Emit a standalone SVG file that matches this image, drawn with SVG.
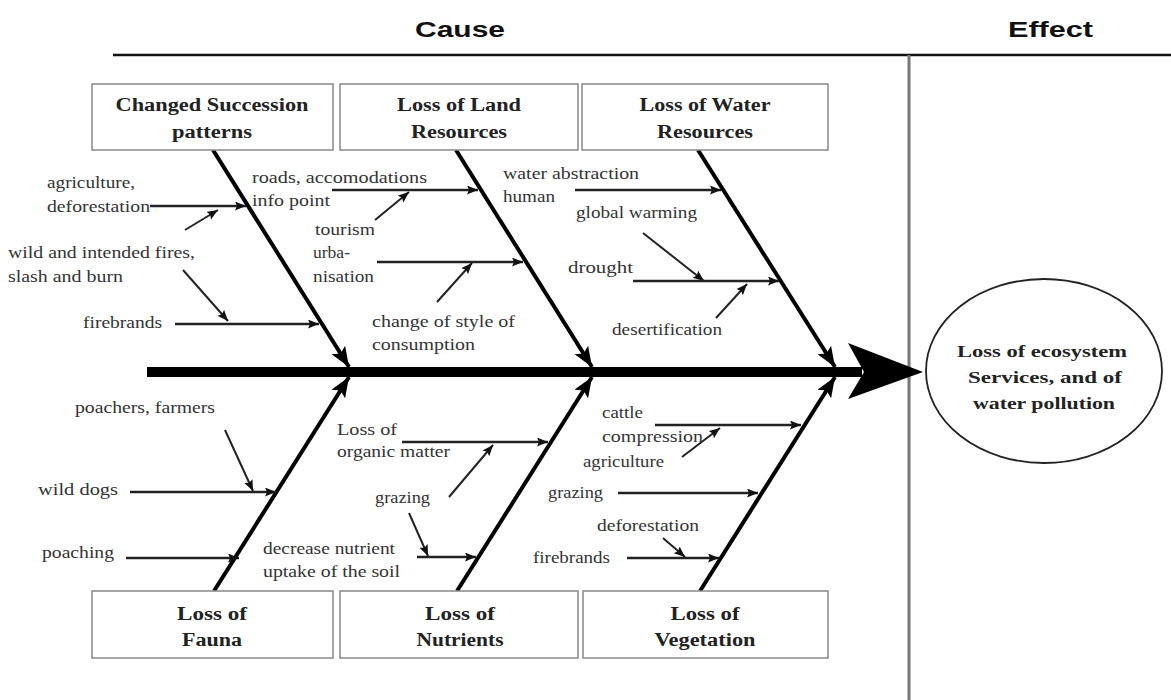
<svg xmlns="http://www.w3.org/2000/svg" width="1171" height="700" viewBox="0 0 1171 700">
<defs>
<style>
.hdr{font-family:"Liberation Sans",Arial,sans-serif;font-weight:bold;font-size:22px;fill:#111}
.box{fill:#fff;stroke:#888;stroke-width:1.5}
.bt{font-family:"Liberation Serif","Times New Roman",serif;font-weight:bold;font-size:18px;fill:#222;text-anchor:middle}
.lb{font-family:"Liberation Serif","Times New Roman",serif;font-size:16px;fill:#333}
.et{font-family:"Liberation Serif","Times New Roman",serif;font-weight:bold;font-size:16px;fill:#222;text-anchor:middle}
.bone{stroke:#000;stroke-width:4;fill:none;marker-end:url(#big)}
.sub{stroke:#222;stroke-width:2.5;fill:none}
.sa{marker-end:url(#sm)}
.tw{stroke:#222;stroke-width:2;fill:none;marker-end:url(#sm)}
</style>
<marker id="big" markerUnits="userSpaceOnUse" markerWidth="22" markerHeight="18" refX="20" refY="8" orient="auto">
<path d="M0,0 L20,8 L0,16 L4,8 Z" fill="#000"/>
</marker>
<marker id="sm" markerUnits="userSpaceOnUse" markerWidth="12" markerHeight="10" refX="11" refY="4.5" orient="auto">
<path d="M0,0 L11,4.5 L0,9 L2,4.5 Z" fill="#111"/>
</marker>
</defs>
<rect width="1171" height="700" fill="#fff"/>

<g id="header">
<line x1="113" y1="55" x2="1171" y2="55" stroke="#111" stroke-width="2.5"/>
<line x1="909" y1="55" x2="909" y2="700" stroke="#777" stroke-width="3"/>
<text class="hdr" x="415" y="37" textLength="90" lengthAdjust="spacingAndGlyphs">Cause</text>
<text class="hdr" x="1008" y="37" textLength="85" lengthAdjust="spacingAndGlyphs">Effect</text>
</g>

<g id="spine">
<rect x="147" y="367" width="715" height="10" fill="#000"/>
<polygon points="848,343 923,372 848,399 864,372" fill="#000"/>
</g>

<g id="connectors">
<line class="bone" x1="213" y1="150" x2="349" y2="367"/>
<line class="bone" x1="456" y1="150" x2="592" y2="367"/>
<line class="bone" x1="698" y1="150" x2="835" y2="367"/>
<line class="bone" x1="214" y1="591" x2="349" y2="377"/>
<line class="bone" x1="457" y1="591" x2="592" y2="377"/>
<line class="bone" x1="700" y1="591" x2="835" y2="377"/>

<line class="sub sa" x1="150" y1="206" x2="246" y2="206"/>
<line class="tw" x1="185" y1="230" x2="218" y2="210"/>
<line class="tw" x1="183" y1="270" x2="228" y2="321"/>
<line class="sub sa" x1="175" y1="324" x2="319" y2="324"/>

<line class="sub sa" x1="332" y1="190" x2="478" y2="190"/>
<line class="tw" x1="375" y1="220" x2="409" y2="192"/>
<line class="sub sa" x1="377" y1="262" x2="523" y2="262"/>
<line class="tw" x1="437" y1="302" x2="472" y2="263"/>

<line class="sub sa" x1="575" y1="190" x2="721" y2="190"/>
<line class="tw" x1="643" y1="233" x2="704" y2="281"/>
<line class="sub sa" x1="633" y1="281" x2="779" y2="281"/>
<line class="tw" x1="716" y1="318" x2="747" y2="284"/>

<line class="tw" x1="225" y1="430" x2="253" y2="491"/>
<line class="sub sa" x1="130" y1="492" x2="276" y2="492"/>
<line class="sub sa" x1="126" y1="558" x2="239" y2="558"/>

<line class="sub sa" x1="402" y1="442" x2="548" y2="442"/>
<line class="tw" x1="449" y1="497" x2="493" y2="445"/>
<line class="tw" x1="409" y1="513" x2="428" y2="556"/>
<line class="sub sa" x1="417" y1="557" x2="476" y2="557"/>

<line class="sub sa" x1="655" y1="425" x2="801" y2="425"/>
<line class="tw" x1="682" y1="457" x2="720" y2="428"/>
<line class="sub sa" x1="618" y1="493" x2="758" y2="493"/>
<line class="tw" x1="663" y1="538" x2="685" y2="557"/>
<line class="sub sa" x1="627" y1="558" x2="719" y2="558"/>
</g>

<g id="node-succession">
<rect class="box" x="92" y="84" width="241" height="66"/>
<text class="bt" x="212" y="111" textLength="193" lengthAdjust="spacingAndGlyphs">Changed Succession</text>
<text class="bt" x="212" y="138" textLength="80" lengthAdjust="spacingAndGlyphs">patterns</text>
</g>
<g id="node-land">
<rect class="box" x="340" y="84" width="238" height="66"/>
<text class="bt" x="459" y="111" textLength="124" lengthAdjust="spacingAndGlyphs">Loss of Land</text>
<text class="bt" x="459" y="138" textLength="96" lengthAdjust="spacingAndGlyphs">Resources</text>
</g>
<g id="node-water">
<rect class="box" x="582" y="84" width="246" height="66"/>
<text class="bt" x="705" y="111" textLength="131" lengthAdjust="spacingAndGlyphs">Loss of Water</text>
<text class="bt" x="705" y="138" textLength="96" lengthAdjust="spacingAndGlyphs">Resources</text>
</g>
<g id="node-fauna">
<rect class="box" x="92" y="591" width="241" height="67"/>
<text class="bt" x="212" y="620" textLength="70" lengthAdjust="spacingAndGlyphs">Loss of</text>
<text class="bt" x="212" y="646" textLength="60" lengthAdjust="spacingAndGlyphs">Fauna</text>
</g>
<g id="node-nutrients">
<rect class="box" x="340" y="591" width="238" height="67"/>
<text class="bt" x="460" y="620" textLength="70" lengthAdjust="spacingAndGlyphs">Loss of</text>
<text class="bt" x="460" y="646" textLength="87" lengthAdjust="spacingAndGlyphs">Nutrients</text>
</g>
<g id="node-vegetation">
<rect class="box" x="583" y="591" width="245" height="67"/>
<text class="bt" x="705" y="620" textLength="69" lengthAdjust="spacingAndGlyphs">Loss of</text>
<text class="bt" x="705" y="646" textLength="101" lengthAdjust="spacingAndGlyphs">Vegetation</text>
</g>

<g id="node-effect">
<ellipse cx="1044" cy="371" rx="118" ry="92" fill="#fff" stroke="#222" stroke-width="1.8"/>
<text class="et" x="1042" y="357" textLength="170" lengthAdjust="spacingAndGlyphs">Loss of ecosystem</text>
<text class="et" x="1045" y="383" textLength="154" lengthAdjust="spacingAndGlyphs">Services, and of</text>
<text class="et" x="1044" y="409" textLength="142" lengthAdjust="spacingAndGlyphs">water pollution</text>
</g>

<g id="labels">
<text class="lb" x="47" y="188" textLength="88" lengthAdjust="spacingAndGlyphs">agriculture,</text>
<text class="lb" x="47" y="212" textLength="103" lengthAdjust="spacingAndGlyphs">deforestation</text>
<text class="lb" x="8" y="258" textLength="187" lengthAdjust="spacingAndGlyphs">wild and intended fires,</text>
<text class="lb" x="8" y="282" textLength="115" lengthAdjust="spacingAndGlyphs">slash and burn</text>
<text class="lb" x="83" y="328" textLength="79" lengthAdjust="spacingAndGlyphs">firebrands</text>

<text class="lb" x="252" y="183" textLength="175" lengthAdjust="spacingAndGlyphs">roads, accomodations</text>
<text class="lb" x="252" y="206" textLength="78" lengthAdjust="spacingAndGlyphs">info point</text>
<text class="lb" x="315" y="235" textLength="60" lengthAdjust="spacingAndGlyphs">tourism</text>
<text class="lb" x="313" y="258" textLength="37" lengthAdjust="spacingAndGlyphs">urba-</text>
<text class="lb" x="313" y="282" textLength="61" lengthAdjust="spacingAndGlyphs">nisation</text>
<text class="lb" x="372" y="327" textLength="143" lengthAdjust="spacingAndGlyphs">change of style of</text>
<text class="lb" x="372" y="350" textLength="103" lengthAdjust="spacingAndGlyphs">consumption</text>

<text class="lb" x="503" y="179" textLength="136" lengthAdjust="spacingAndGlyphs">water abstraction</text>
<text class="lb" x="503" y="202" textLength="52" lengthAdjust="spacingAndGlyphs">human</text>
<text class="lb" x="576" y="218" textLength="121" lengthAdjust="spacingAndGlyphs">global warming</text>
<text class="lb" x="568" y="273" textLength="65" lengthAdjust="spacingAndGlyphs">drought</text>
<text class="lb" x="612" y="335" textLength="110" lengthAdjust="spacingAndGlyphs">desertification</text>

<text class="lb" x="75" y="413" textLength="140" lengthAdjust="spacingAndGlyphs">poachers, farmers</text>
<text class="lb" x="38" y="495" textLength="80" lengthAdjust="spacingAndGlyphs">wild dogs</text>
<text class="lb" x="42" y="558" textLength="72" lengthAdjust="spacingAndGlyphs">poaching</text>

<text class="lb" x="337" y="435" textLength="60" lengthAdjust="spacingAndGlyphs">Loss of</text>
<text class="lb" x="337" y="457" textLength="113" lengthAdjust="spacingAndGlyphs">organic matter</text>
<text class="lb" x="375" y="503" textLength="55" lengthAdjust="spacingAndGlyphs">grazing</text>
<text class="lb" x="263" y="554" textLength="132" lengthAdjust="spacingAndGlyphs">decrease nutrient</text>
<text class="lb" x="263" y="577" textLength="137" lengthAdjust="spacingAndGlyphs">uptake of the soil</text>

<text class="lb" x="602" y="418" textLength="41" lengthAdjust="spacingAndGlyphs">cattle</text>
<text class="lb" x="602" y="442" textLength="101" lengthAdjust="spacingAndGlyphs">compression</text>
<text class="lb" x="583" y="467" textLength="81" lengthAdjust="spacingAndGlyphs">agriculture</text>
<text class="lb" x="548" y="498" textLength="55" lengthAdjust="spacingAndGlyphs">grazing</text>
<text class="lb" x="597" y="531" textLength="102" lengthAdjust="spacingAndGlyphs">deforestation</text>
<text class="lb" x="533" y="563" textLength="77" lengthAdjust="spacingAndGlyphs">firebrands</text>
</g>
</svg>
